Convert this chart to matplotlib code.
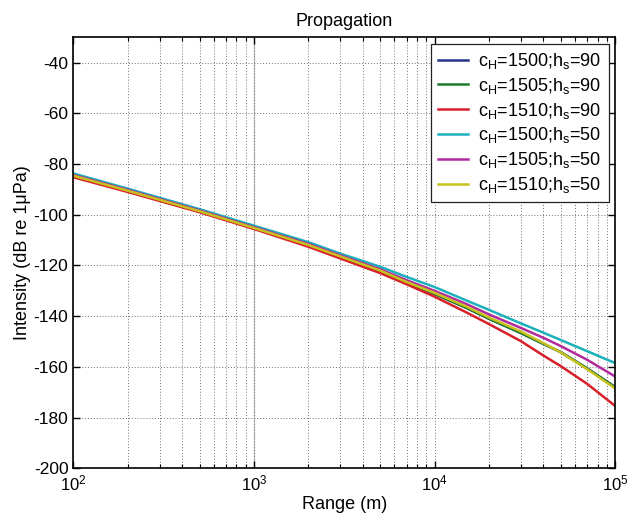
import numpy as np
import matplotlib
matplotlib.use("Agg")
import matplotlib.pyplot as plt
from matplotlib.ticker import LogLocator, MultipleLocator, NullFormatter

plt.rcParams['font.family'] = ['Liberation Sans', 'DejaVu Sans']
plt.rcParams['mathtext.default'] = 'regular'
plt.rcParams['axes.unicode_minus'] = False

# range samples (m)
ranges = [100, 200, 500, 1000, 2000, 3000, 5000, 7000, 10000, 15000, 20000,
          30000, 40000, 50000, 70000, 100000]

# intensity (dB re 1uPa)
tl_1500_90 = [-84.8, -90.6, -98.7, -105.3, -112.1, -116.6, -122.3, -126.8, -131.2, -136.7, -141.0,
              -146.6, -150.9, -154.2, -160.6, -168.0]
tl_1505_90 = [-84.8, -90.6, -98.7, -105.3, -112.1, -116.6, -122.3, -126.8, -131.2, -136.7, -141.0,
              -146.6, -150.9, -154.2, -160.6, -168.0]
tl_1510_90 = [-85.2, -91.0, -99.0, -105.6, -112.6, -117.2, -123.0, -127.4, -132.3, -138.5, -143.1,
              -149.8, -155.5, -159.7, -166.7, -175.4]
tl_1500_50 = [-83.7, -89.7, -97.8, -104.3, -110.8, -115.3, -120.5, -124.5, -128.5, -133.8, -137.5,
              -142.8, -146.5, -149.4, -153.8, -158.5]
tl_1505_50 = [-84.3, -90.2, -98.3, -104.9, -111.5, -116.0, -121.5, -125.8, -130.0, -135.2, -139.3,
              -144.6, -148.5, -151.8, -157.2, -163.8]
tl_1510_50 = [-84.6, -90.5, -98.6, -105.2, -111.9, -116.4, -122.0, -126.5, -130.8, -136.2, -140.5,
              -146.0, -150.6, -154.3, -160.9, -168.5]

labels = ['c$_H$=1500;h$_s$=90', 'c$_H$=1505;h$_s$=90', 'c$_H$=1510;h$_s$=90',
          'c$_H$=1500;h$_s$=50', 'c$_H$=1505;h$_s$=50', 'c$_H$=1510;h$_s$=50']
colors = ['#27358c', '#1f7a2c', '#d8202a', '#1cb0ba', '#b02a9c', '#c8c21e']
series = [tl_1500_90, tl_1505_90, tl_1510_90, tl_1500_50, tl_1505_50, tl_1510_50]

fig = plt.figure(figsize=(6.29, 5.24), dpi=100)
ax = fig.add_axes([0.1166, 0.1063, 0.978 - 0.1166, 0.9288 - 0.1063])

for vals, c, lab in zip(series, colors, labels):
    ax.semilogx(ranges, vals, color=c, lw=1.8, label=lab)

ax.axvline(1000, color='#c8c8c8', lw=1.0, zorder=0)

ax.set_xlim(1e2, 1e5)
ax.set_ylim(-200, -30)
ax.yaxis.set_major_locator(MultipleLocator(20))
ax.xaxis.set_major_locator(LogLocator(base=10, numticks=10))
ax.xaxis.set_minor_locator(LogLocator(base=10, subs=np.arange(2, 10), numticks=10))
ax.xaxis.set_minor_formatter(NullFormatter())

ax.grid(True, which='major', axis='both', color='#707070', ls=(0, (1, 2)), lw=0.7)
ax.grid(True, which='minor', axis='x', color='#707070', ls=(0, (1, 2)), lw=0.7)
ax.tick_params(which='both', direction='in', top=True, right=True, labelsize=12.5)
ax.tick_params(which='major', length=5, width=1)
ax.tick_params(which='minor', length=3, width=0.8)
ax.tick_params(axis='x', labelsize=12)
for s in ax.spines.values():
    s.set_linewidth(1.2)

ax.set_xlabel('Range (m)', fontsize=13, labelpad=2)
ax.set_ylabel('Intensity (dB re 1μPa)', fontsize=13, labelpad=2)
ax.set_title('Propagation', fontsize=13, pad=8)

leg = ax.legend(loc='upper right', fontsize=13, handlelength=1.7, handletextpad=0.55,
                labelspacing=0.27, borderaxespad=0.35, fancybox=False, framealpha=1)
leg.get_frame().set_edgecolor('#222222')
leg.get_frame().set_linewidth(0.9)

fig.savefig('out.png', dpi=100)
